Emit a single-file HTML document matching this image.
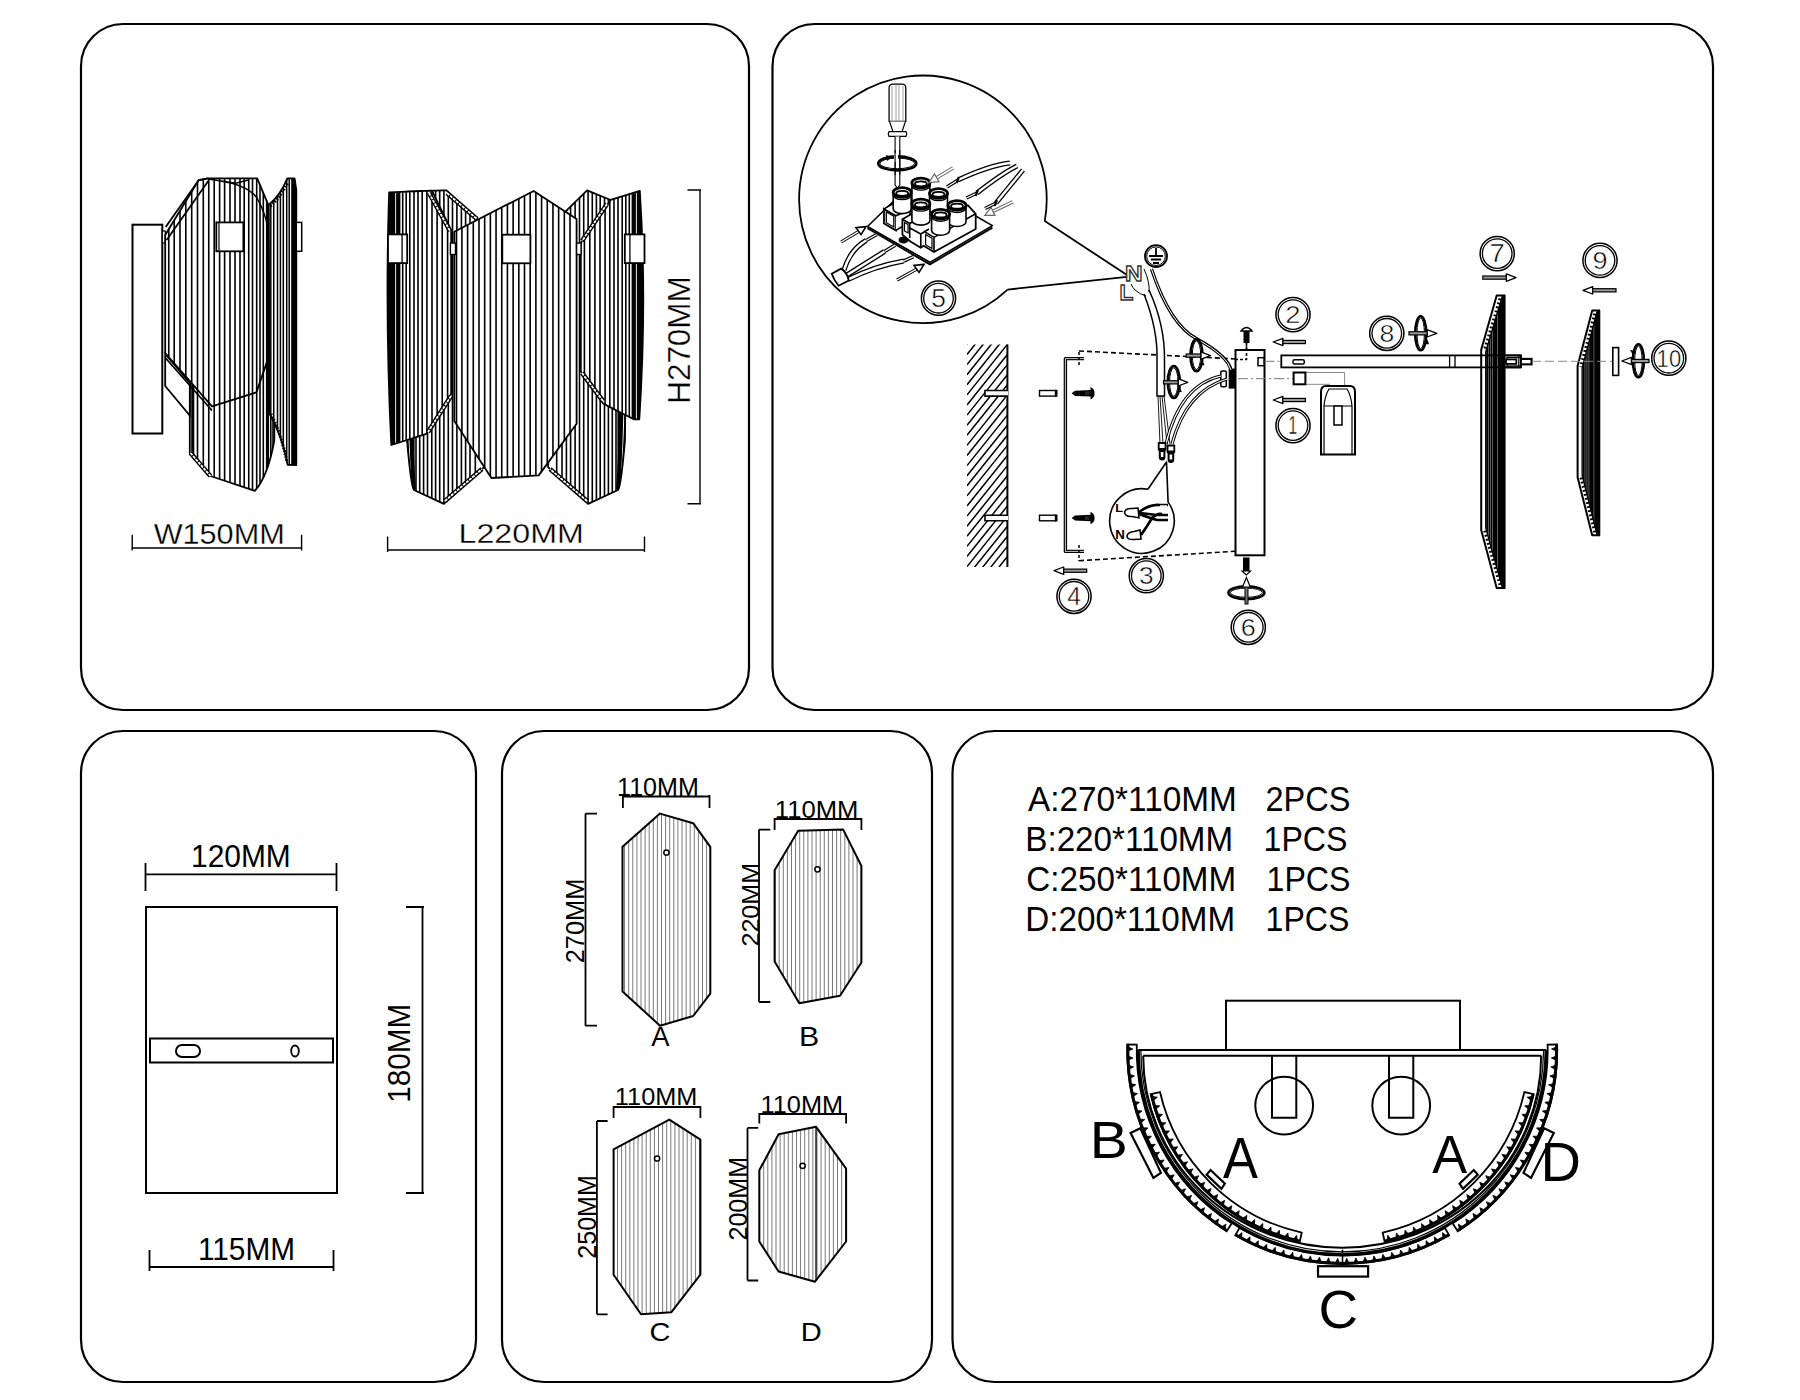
<!DOCTYPE html>
<html><head><meta charset="utf-8"><style>
html,body{margin:0;padding:0;background:#fff;}
svg{display:block;}
text{font-family:"Liberation Sans", sans-serif;}
</style></head><body>
<svg width="1800" height="1400" viewBox="0 0 1800 1400">
<rect width="1800" height="1400" fill="#fff"/>

<defs>
 <pattern id="st1" patternUnits="userSpaceOnUse" x="484.0" y="0" width="5.69" height="10"><rect x="0" y="0" width="1.3" height="10" fill="#000"/></pattern>
 <pattern id="st1s" patternUnits="userSpaceOnUse" x="165.5" y="0" width="5.6" height="10"><rect x="0" y="0" width="1.3" height="10" fill="#000"/></pattern>
 <pattern id="st4" patternUnits="userSpaceOnUse" x="0" y="0" width="4.1" height="10"><rect x="0" y="0" width="1" height="10" fill="#888"/></pattern>
 <pattern id="hatch" patternUnits="userSpaceOnUse" width="10" height="10" patternTransform="rotate(45)"><rect x="0" y="0" width="1.6" height="10" fill="#000"/></pattern>
</defs>
<rect x="81" y="24" width="668" height="686" rx="42" ry="42" fill="none" stroke="#000" stroke-width="2.2"/><rect x="772.5" y="24" width="940.5" height="686" rx="42" ry="42" fill="none" stroke="#000" stroke-width="2.2"/><rect x="81" y="731" width="395" height="651" rx="42" ry="42" fill="none" stroke="#000" stroke-width="2.2"/><rect x="502" y="731" width="430" height="651" rx="42" ry="42" fill="none" stroke="#000" stroke-width="2.2"/><rect x="952.5" y="731" width="760.5" height="651" rx="42" ry="42" fill="none" stroke="#000" stroke-width="2.2"/><rect x="132.5" y="224.7" width="29.8" height="208.8" stroke="#000" fill="#fff" stroke-width="2"/><rect x="162.3" y="231" width="3" height="12" stroke="#000" fill="#fff" stroke-width="1.2"/><path d="M189.8 365 L189.8 453 L210.4 476 L254.9 490.9 Q268 476 274.3 440.6 L274.5 360 Z" fill="#fff"/><clipPath id="p1c1"><path d="M189.8 365 L189.8 453 L210.4 476 L254.9 490.9 Q268 476 274.3 440.6 L274.5 360 Z"/></clipPath><g clip-path="url(#p1c1)"><path d="M192.00 350V495M193.50 350V495M197.50 350V495M203.30 350V495M208.75 350V495M214.20 350V495M219.60 350V495M224.60 350V495M230.00 350V495M235.00 350V495M240.00 350V495M244.20 350V495M248.75 350V495M252.50 350V495M256.70 350V495M260.00 350V495M263.30 350V495M266.70 350V495M268.30 350V495M270.80 350V495M273.00 350V495" stroke="#000" stroke-width="1.6" fill="none"/></g><path d="M189.8 365 L189.8 453 L210.4 476 L254.9 490.9 Q268 476 274.3 440.6 L274.5 360 Z" fill="none" stroke="#000" stroke-width="1.8" stroke-linejoin="round"/><path d="M190.5 453 L210.4 476" stroke="#000" stroke-width="4.6" fill="none" stroke-linecap="butt"/><path d="M190.5 453 L210.4 476" stroke="#fff" stroke-width="1.8" fill="none" stroke-dasharray="3 1"/><path d="M165.2 354 L165.2 386 L189.8 415.5 L189.8 383 Z" stroke="#000" fill="#fff" stroke-width="1.8"/><path d="M268.8 204.7 Q280 196 287.4 178.4 L294.6 178.4 L296.3 190 L296.3 465 L287.6 464.8 Q282 435 269.5 413.8 Z" fill="#fff"/><clipPath id="p1c2"><path d="M268.8 204.7 Q280 196 287.4 178.4 L294.6 178.4 L296.3 190 L296.3 465 L287.6 464.8 Q282 435 269.5 413.8 Z"/></clipPath><g clip-path="url(#p1c2)"><path d="M270.80 175V470M273.75 175V470M277.50 175V470M280.40 175V470M283.30 175V470M286.70 175V470M289.20 175V470" stroke="#000" stroke-width="1.5" fill="none"/><rect x="291.2" y="175" width="6" height="295" fill="#000"/></g><path d="M268.8 204.7 Q280 196 287.4 178.4 L294.6 178.4 L296.3 190 L296.3 465 L287.6 464.8 Q282 435 269.5 413.8 Z" fill="none" stroke="#000" stroke-width="1.8" stroke-linejoin="round"/><path d="M270.5 206 Q281 197 288 182" stroke="#000" fill="none" stroke-width="3" stroke-dasharray="1.5 1.5"/><path d="M271 414 Q281 433 287 462" stroke="#000" fill="none" stroke-width="3" stroke-dasharray="1.5 1.5"/><path d="M165.2 235.0 L198.6 180.2 L207.9 178.4 L257.2 178.4 L267.9 203.8 L269.5 354.6 L256.4 392.4 L212.0 406.4 L165.2 353.0Z" fill="#fff"/><clipPath id="p1c3"><path d="M165.2 235.0 L198.6 180.2 L207.9 178.4 L257.2 178.4 L267.9 203.8 L269.5 354.6 L256.4 392.4 L212.0 406.4 L165.2 353.0Z"/></clipPath><g clip-path="url(#p1c3)"><path d="M165.00 175V410M168.75 175V410M174.20 175V410M180.00 175V410M185.80 175V410M191.70 175V410M197.50 175V410M203.30 175V410M208.75 175V410M214.20 175V410M219.60 175V410M224.60 175V410M230.00 175V410M235.00 175V410M240.00 175V410M244.20 175V410M248.75 175V410M252.50 175V410M256.70 175V410M260.00 175V410M263.30 175V410M266.70 175V410M268.30 175V410" stroke="#000" stroke-width="1.6" fill="none"/></g><path d="M165.2 235.0 L198.6 180.2 L207.9 178.4 L257.2 178.4 L267.9 203.8 L269.5 354.6 L256.4 392.4 L212.0 406.4 L165.2 353.0Z" fill="none" stroke="#000" stroke-width="1.8" stroke-linejoin="round"/><path d="M165.7 226.9 L198.6 180.2 L207.9 178.4 M166.6 240 L208.3 181" stroke="#000" fill="none" stroke-width="1.8"/><path d="M208.3 178.9 L235.9 183.3 L249.2 179.8 M219 180.7 Q248 185 257 198 Q265 212 267.9 227.8" stroke="#000" fill="none" stroke-width="1.5"/><path d="M165.5 358 L212 410.5" stroke="#000" fill="none" stroke-width="1.8"/><rect x="216.3" y="222.4" width="27.1" height="28.9" stroke="#000" fill="#fff" stroke-width="1.8"/><path d="M219 222.4V251.3" stroke="#000" fill="none" stroke-width="1.2"/><rect x="296.3" y="222.4" width="5.4" height="28.9" stroke="#000" fill="#fff" stroke-width="1.5"/><text transform="translate(153.67 543.90) scale(1.0136 1)" font-size="30.22" stroke="#fff" stroke-width="0.3" fill="#000" >W150MM</text><path d="M132.2 548H301.6M132.2 534.7V550.5M301.6 534.7V550.5" stroke="#000" fill="none" stroke-width="1.4"/><path d="M406.4 191.7 L443.3 190.4 L446.5 190.4 L480 222 L484 467.2 L443.9 503.9 L413.9 490 Q411 487 407 440 L405.6 300 Z" fill="#fff"/><clipPath id="p1c4"><path d="M406.4 191.7 L443.3 190.4 L446.5 190.4 L480 222 L484 467.2 L443.9 503.9 L413.9 490 Q411 487 407 440 L405.6 300 Z"/></clipPath><g clip-path="url(#p1c4)"><path d="M412.50 185V510M413.80 185V510M416.00 185V510M419.70 185V510M423.60 185V510M427.50 185V510M431.80 185V510M435.60 185V510M439.70 185V510M443.90 185V510M448.30 185V510M452.50 185V510M456.90 185V510M461.40 185V510M465.60 185V510M470.00 185V510M475.30 185V510" stroke="#000" stroke-width="1.6" fill="none"/><path d="M405 191 L405.6 300 Q407 450 412 490 L406 490 L398 191Z" fill="#000"/><path d="M409 191 V300 Q410 440 414 490" stroke="#000" stroke-width="4" fill="none"/></g><path d="M406.4 191.7 L443.3 190.4 L446.5 190.4 L480 222 L484 467.2 L443.9 503.9 L413.9 490 Q411 487 407 440 L405.6 300 Z" fill="none" stroke="#000" stroke-width="1.8" stroke-linejoin="round"/><path d="M445 501 L482 469" stroke="#000" stroke-width="4.6" fill="none" stroke-linecap="butt"/><path d="M445 501 L482 469" stroke="#fff" stroke-width="1.8" fill="none" stroke-dasharray="3 1"/><path d="M447 193 L477 219" stroke="#000" stroke-width="4.6" fill="none" stroke-linecap="butt"/><path d="M447 193 L477 219" stroke="#fff" stroke-width="1.8" fill="none" stroke-dasharray="3 1"/><path d="M626.4 200 L610.7 200 L587.1 190.4 L565.9 211.2 L548 467.2 L588.1 503.9 L618.1 490 Q621 487 625 440 L626.4 300 Z" fill="#fff"/><clipPath id="p1c5"><path d="M626.4 200 L610.7 200 L587.1 190.4 L565.9 211.2 L548 467.2 L588.1 503.9 L618.1 490 Q621 487 625 440 L626.4 300 Z"/></clipPath><g clip-path="url(#p1c5)"><path d="M619.50 185V510M618.20 185V510M616.00 185V510M612.30 185V510M608.40 185V510M604.50 185V510M600.20 185V510M596.40 185V510M592.30 185V510M588.10 185V510M583.70 185V510M579.50 185V510M575.10 185V510M570.60 185V510M566.40 185V510M562.00 185V510M556.70 185V510" stroke="#000" stroke-width="1.6" fill="none"/><path d="M627 191 L626.4 300 Q625 450 620 490 L626 490 L634 191Z" fill="#000"/><path d="M623 191 V300 Q622 440 618 490" stroke="#000" stroke-width="4" fill="none"/></g><path d="M626.4 200 L610.7 200 L587.1 190.4 L565.9 211.2 L548 467.2 L588.1 503.9 L618.1 490 Q621 487 625 440 L626.4 300 Z" fill="none" stroke="#000" stroke-width="1.8" stroke-linejoin="round"/><path d="M587 501 L550 469" stroke="#000" stroke-width="4.6" fill="none" stroke-linecap="butt"/><path d="M587 501 L550 469" stroke="#fff" stroke-width="1.8" fill="none" stroke-dasharray="3 1"/><path d="M389.1 192.4 L432 190.6 L451.2 230.5 L451.2 394 L426.3 433.8 L391.3 445 Q385 318 389.1 192.4 Z" fill="#fff"/><clipPath id="p1c6"><path d="M389.1 192.4 L432 190.6 L451.2 230.5 L451.2 394 L426.3 433.8 L391.3 445 Q385 318 389.1 192.4 Z"/></clipPath><g clip-path="url(#p1c6)"><path d="M393.30 185V450M394.40 185V450M396.90 185V450M398.20 185V450M399.60 185V450M402.70 185V450M406.20 185V450M409.80 185V450M414.00 185V450M418.00 185V450M422.20 185V450M426.90 185V450M432.00 185V450M437.10 185V450M442.20 185V450M447.60 185V450" stroke="#000" stroke-width="1.6" fill="none"/><path d="M389.5 192 Q384.5 318 391.3 445 L393 445 L393 192Z" fill="#000"/></g><path d="M389.1 192.4 L432 190.6 L451.2 230.5 L451.2 394 L426.3 433.8 L391.3 445 Q385 318 389.1 192.4 Z" fill="none" stroke="#000" stroke-width="1.8" stroke-linejoin="round"/><path d="M429 193 L450 231 M451 396 L428 432" stroke="#000" stroke-width="4.6" fill="none" stroke-linecap="butt"/><path d="M429 193 L450 231 M451 396 L428 432" stroke="#fff" stroke-width="1.8" fill="none" stroke-dasharray="3 1"/><path d="M610.7 199.9 L639.8 190.8 Q647 300 639.3 419.3 L633.8 419.3 L603.2 403.6 L580.8 371.4 L580.8 243 Z" fill="#fff"/><clipPath id="p1c7"><path d="M610.7 199.9 L639.8 190.8 Q647 300 639.3 419.3 L633.8 419.3 L603.2 403.6 L580.8 371.4 L580.8 243 Z"/></clipPath><g clip-path="url(#p1c7)"><path d="M638.70 185V450M637.60 185V450M635.10 185V450M633.80 185V450M632.40 185V450M629.30 185V450M625.80 185V450M622.20 185V450M618.00 185V450M614.00 185V450M609.80 185V450M605.10 185V450M600.00 185V450M594.90 185V450M589.80 185V450M584.40 185V450" stroke="#000" stroke-width="1.6" fill="none"/><path d="M639.8 190.8 Q647.5 300 639.3 419.3 L638.6 419.3 L638.6 190.8Z" fill="#000"/></g><path d="M610.7 199.9 L639.8 190.8 Q647 300 639.3 419.3 L633.8 419.3 L603.2 403.6 L580.8 371.4 L580.8 243 Z" fill="none" stroke="#000" stroke-width="1.8" stroke-linejoin="round"/><path d="M607 204 L582 241 M582 373 L603 401" stroke="#000" stroke-width="4.6" fill="none" stroke-linecap="butt"/><path d="M607 204 L582 241 M582 373 L603 401" stroke="#fff" stroke-width="1.8" fill="none" stroke-dasharray="3 1"/><path d="M533.6 191.0 L576.6 219.0 L576.6 423.7 L538.7 475.4 L491.4 478.0 L454.3 421.0 L454.3 231.7Z" fill="#fff"/><clipPath id="p1c8"><path d="M533.6 191.0 L576.6 219.0 L576.6 423.7 L538.7 475.4 L491.4 478.0 L454.3 421.0 L454.3 231.7Z"/></clipPath><g clip-path="url(#p1c8)"><path d="M456.50 185V480M461.91 185V480M467.60 185V480M473.29 185V480M478.98 185V480M484.67 185V480M490.36 185V480M496.05 185V480M501.74 185V480M507.43 185V480M513.12 185V480M518.81 185V480M524.50 185V480M530.19 185V480M535.88 185V480M541.57 185V480M547.26 185V480M552.95 185V480M558.64 185V480M564.33 185V480M570.02 185V480" stroke="#000" stroke-width="1.6" fill="none"/></g><path d="M533.6 191.0 L576.6 219.0 L576.6 423.7 L538.7 475.4 L491.4 478.0 L454.3 421.0 L454.3 231.7Z" fill="none" stroke="#000" stroke-width="1.8" stroke-linejoin="round"/><rect x="388" y="234.4" width="19.2" height="28.7" stroke="#000" fill="#fff" stroke-width="1.8"/><path d="M402.1 234.4V263.1" stroke="#000" fill="none" stroke-width="1.3"/><rect x="502.3" y="234.7" width="28.1" height="28.6" stroke="#000" fill="#fff" stroke-width="1.8"/><rect x="624.8" y="234.4" width="19.7" height="28.7" stroke="#000" fill="#fff" stroke-width="1.8"/><path d="M629.9 234.4V263.1" stroke="#000" fill="none" stroke-width="1.3"/><rect x="450.4" y="243.1" width="5.1" height="11.4" stroke="#000" fill="#fff" stroke-width="1.4"/><rect x="576.6" y="243.1" width="4.5" height="11.4" stroke="#000" fill="#fff" stroke-width="1.4"/><text transform="translate(458.56 543.40) scale(1.1356 1)" font-size="28.36" stroke="#fff" stroke-width="0.3" fill="#000" >L220MM</text><path d="M387.6 550H644.5M387.6 536.4V552M644.5 536.4V552" stroke="#000" fill="none" stroke-width="1.4"/><path d="M700 190V503.75M687.5 190H701M687.5 503.75H701" stroke="#000" fill="none" stroke-width="1.4"/><text transform="translate(690.00 403.83) rotate(-90) scale(1.0341 1)" font-size="30.43" stroke="#fff" stroke-width="0.3" fill="#000">H270MM</text><path d="M1007.6 289.6 A123.8 123.8 0 1 1 1044.8 220.9 L1129.3 276.6 L1007.6 289.6" stroke="#000" fill="none" stroke-width="1.8" stroke-linejoin="round"/><circle cx="938.5" cy="298.2" r="17.1" stroke="#000" fill="none" stroke-width="1.5"/><circle cx="938.5" cy="298.2" r="14.8" stroke="#000" fill="none" stroke-width="1.3"/><text transform="translate(931.19 306.80) scale(1.0546 1)" font-size="25.00" stroke="#fff" stroke-width="0.5" fill="#000" >5</text><clipPath id="wallc"><rect x="967" y="344.4" width="40.4" height="222.5"/></clipPath><g clip-path="url(#wallc)"><path d="M967 334.3 L1007.4 283.8M967 344.4 L1007.4 293.9M967 354.5 L1007.4 304.0M967 364.6 L1007.4 314.1M967 374.7 L1007.4 324.2M967 384.8 L1007.4 334.3M967 394.9 L1007.4 344.4M967 405.0 L1007.4 354.5M967 415.1 L1007.4 364.6M967 425.2 L1007.4 374.7M967 435.3 L1007.4 384.8M967 445.4 L1007.4 394.9M967 455.5 L1007.4 405.0M967 465.6 L1007.4 415.1M967 475.7 L1007.4 425.2M967 485.8 L1007.4 435.3M967 495.9 L1007.4 445.4M967 506.0 L1007.4 455.5M967 516.1 L1007.4 465.6M967 526.2 L1007.4 475.7M967 536.3 L1007.4 485.8M967 546.4 L1007.4 495.9M967 556.5 L1007.4 506.0M967 566.6 L1007.4 516.1M967 576.7 L1007.4 526.2M967 586.8 L1007.4 536.3M967 596.9 L1007.4 546.4M967 607.0 L1007.4 556.5M967 617.1 L1007.4 566.6M967 627.2 L1007.4 576.7M967 637.3 L1007.4 586.8M967 647.4 L1007.4 596.9M967 657.5 L1007.4 607.0M967 667.6 L1007.4 617.1M967 677.7 L1007.4 627.2M967 687.8 L1007.4 637.3" stroke="#000" stroke-width="1.5"/></g><path d="M1007.4 344.4V566.9" stroke="#000" fill="none" stroke-width="2"/><rect x="985" y="390.5" width="23" height="5.6" fill="#fff"/><path d="M1008 390.5 H985 V396.1 H1008" stroke="#000" fill="none" stroke-width="1.6"/><rect x="1039.5" y="390.5" width="16" height="5.6" stroke="#000" fill="#fff" stroke-width="1.4"/><rect x="1055" y="389.8" width="2.5" height="7" fill="#000"/><path d="M1071.6 393.3 L1075 390.7 L1091 390.1 L1091 396.5 L1075 395.90000000000003 Z" fill="#000"/><path d="M1090.5 387.0 Q1095 389.3 1094.5 393.3 Q1095 397.3 1090.5 399.6 Z" fill="#000"/><path d="M1086 391.3 V395.3 M1088 391.3 V395.3" stroke="#666" stroke-width="0.7"/><rect x="985" y="515.2" width="23" height="5.6" fill="#fff"/><path d="M1008 515.2 H985 V520.8 H1008" stroke="#000" fill="none" stroke-width="1.6"/><rect x="1039.5" y="515.2" width="16" height="5.6" stroke="#000" fill="#fff" stroke-width="1.4"/><rect x="1055" y="514.5" width="2.5" height="7" fill="#000"/><path d="M1071.6 518 L1075 515.4 L1091 514.8 L1091 521.2 L1075 520.6 Z" fill="#000"/><path d="M1090.5 511.7 Q1095 514 1094.5 518 Q1095 522 1090.5 524.3 Z" fill="#000"/><path d="M1086 516 V520 M1088 516 V520" stroke="#666" stroke-width="0.7"/><path d="M1084 358.6 H1065.4 V551.4 H1084" stroke="#000" fill="none" stroke-width="3.4" stroke-linejoin="round"/><path d="M1084 358.6 H1065.4 V551.4 H1084" stroke="#fff" fill="none" stroke-width="0.8"/><path d="M1079 352V366 M1079 545V561" stroke="#000" fill="none" stroke-width="1.5" stroke-dasharray="3 2"/><path d="M1079 351 L1246.5 359.5 V343 M1079 560.7 L1235.3 551.3" stroke="#000" fill="none" stroke-width="1.6" stroke-dasharray="5 3"/><rect x="1235.5" y="350" width="29" height="205.3" stroke="#000" fill="#fff" stroke-width="2"/><path d="M1246.5 343 V359.5 H1235.5" stroke="#000" fill="none" stroke-width="1.6" stroke-dasharray="3 2"/><rect x="1243.5" y="329" width="6" height="14" fill="#000"/><path d="M1241 331 Q1246.5 324 1252 331Z" fill="#fff" stroke="#000" stroke-width="1.3"/><rect x="1243" y="557.5" width="6.5" height="14.5" fill="#000"/><path d="M1242 571 L1246.3 575 L1250.5 571Z" fill="#fff" stroke="#000" stroke-width="1.2"/><rect x="1258" y="357.7" width="6" height="8" stroke="#000" fill="#fff" stroke-width="1.5"/><rect x="1228.7" y="368.6" width="6.6" height="20" fill="#000"/><rect x="1220.8" y="371" width="5.5" height="15.8" rx="1.5" stroke="#000" fill="#fff" stroke-width="1.5"/><path d="M1264.5 361.3 H1281 M1238 378.7 H1293" stroke="#777" stroke-width="1" stroke-dasharray="10 3 2 3"/><ellipse cx="1246.4" cy="592.7" rx="18" ry="6.5" stroke="#000" fill="none" stroke-width="2.6"/><ellipse cx="1246.4" cy="592.7" rx="16" ry="4.6" stroke="#000" fill="none" stroke-width="1"/><rect x="1245" y="586" width="3" height="18" fill="#777" stroke="#000" stroke-width="1"/><path d="M1246.4 577.5 L1242.5 587 L1250.3 587Z" fill="#fff" stroke="#000" stroke-width="1.2"/><circle cx="1248.3" cy="627.3" r="17.1" stroke="#000" fill="none" stroke-width="1.5"/><circle cx="1248.3" cy="627.3" r="14.8" stroke="#000" fill="none" stroke-width="1.3"/><text transform="translate(1240.67 635.90) scale(1.0997 1)" font-size="24.63" stroke="#fff" stroke-width="0.5" fill="#000" >6</text><circle cx="1293" cy="314.6" r="17.1" stroke="#000" fill="none" stroke-width="1.5"/><circle cx="1293" cy="314.6" r="14.8" stroke="#000" fill="none" stroke-width="1.3"/><text transform="translate(1285.37 323.20) scale(1.1139 1)" font-size="24.63" stroke="#fff" stroke-width="0.5" fill="#000" >2</text><path d="M1273.2 342 L1282.9 338.3 L1282.9 345.7 Z" fill="#fff" stroke="#000" stroke-width="1.3" stroke-linejoin="round"/><rect x="1282.9" y="340.4" width="22.5" height="3.2" fill="#999" stroke="#000" stroke-width="1.2"/><path d="M1273.2 400 L1282.9 396.3 L1282.9 403.7 Z" fill="#fff" stroke="#000" stroke-width="1.3" stroke-linejoin="round"/><rect x="1282.9" y="398.4" width="22.5" height="3.2" fill="#999" stroke="#000" stroke-width="1.2"/><circle cx="1293" cy="425.6" r="17.1" stroke="#000" fill="none" stroke-width="1.5"/><circle cx="1293" cy="425.6" r="14.8" stroke="#000" fill="none" stroke-width="1.3"/><text transform="translate(1288.26 434.20) scale(0.6494 1)" font-size="25.00" stroke="#fff" stroke-width="0.5" fill="#000" >1</text><circle cx="1146.3" cy="575.7" r="17.1" stroke="#000" fill="none" stroke-width="1.5"/><circle cx="1146.3" cy="575.7" r="14.8" stroke="#000" fill="none" stroke-width="1.3"/><text transform="translate(1139.05 584.30) scale(1.0703 1)" font-size="24.63" stroke="#fff" stroke-width="0.5" fill="#000" >3</text><path d="M1054 570.7 L1063.7 567.0 L1063.7 574.4000000000001 Z" fill="#fff" stroke="#000" stroke-width="1.3" stroke-linejoin="round"/><rect x="1063.7" y="569.1" width="23.0" height="3.2" fill="#999" stroke="#000" stroke-width="1.2"/><circle cx="1074" cy="596.3" r="17.1" stroke="#000" fill="none" stroke-width="1.5"/><circle cx="1074" cy="596.3" r="14.8" stroke="#000" fill="none" stroke-width="1.3"/><text transform="translate(1067.18 604.90) scale(0.9922 1)" font-size="25.00" stroke="#fff" stroke-width="0.5" fill="#000" >4</text><circle cx="1497.2" cy="253.6" r="17.1" stroke="#000" fill="none" stroke-width="1.5"/><circle cx="1497.2" cy="253.6" r="14.8" stroke="#000" fill="none" stroke-width="1.3"/><text transform="translate(1489.54 262.20) scale(1.0999 1)" font-size="25.00" stroke="#fff" stroke-width="0.5" fill="#000" >7</text><path d="M1516 277.6 L1506.3 273.90000000000003 L1506.3 281.3 Z" fill="#fff" stroke="#000" stroke-width="1.3" stroke-linejoin="round"/><rect x="1482.8" y="276.0" width="23.5" height="3.2" fill="#999" stroke="#000" stroke-width="1.2"/><circle cx="1386.8" cy="333.3" r="17.1" stroke="#000" fill="none" stroke-width="1.5"/><circle cx="1386.8" cy="333.3" r="14.8" stroke="#000" fill="none" stroke-width="1.3"/><text transform="translate(1379.39 341.90) scale(1.0814 1)" font-size="24.63" stroke="#fff" stroke-width="0.5" fill="#000" >8</text><circle cx="1600" cy="260.4" r="17.1" stroke="#000" fill="none" stroke-width="1.5"/><circle cx="1600" cy="260.4" r="14.8" stroke="#000" fill="none" stroke-width="1.3"/><text transform="translate(1592.48 269.00) scale(1.0986 1)" font-size="24.63" stroke="#fff" stroke-width="0.5" fill="#000" >9</text><path d="M1583 290.3 L1592.7 286.6 L1592.7 294.0 Z" fill="#fff" stroke="#000" stroke-width="1.3" stroke-linejoin="round"/><rect x="1592.7" y="288.7" width="23.299999999999955" height="3.2" fill="#999" stroke="#000" stroke-width="1.2"/><circle cx="1668.8" cy="358.2" r="17.1" stroke="#000" fill="none" stroke-width="1.5"/><circle cx="1668.8" cy="358.2" r="14.8" stroke="#000" fill="none" stroke-width="1.3"/><text transform="translate(1656.62 366.80) scale(0.8957 1)" font-size="24.63" stroke="#fff" stroke-width="0.5" fill="#000" >10</text><rect x="1281.3" y="355.4" width="239.7" height="12" stroke="#000" fill="#fff" stroke-width="1.8"/><path d="M1449.6 355.4V367.4M1455 355.4V367.4" stroke="#000" fill="none" stroke-width="1.3"/><rect x="1293" y="359.7" width="11.3" height="4.3" rx="1.5" stroke="#000" fill="#fff" stroke-width="1.5"/><rect x="1507" y="357.5" width="14" height="8.5" stroke="#000" fill="#fff" stroke-width="1.3"/><rect x="1521" y="358.6" width="10.7" height="6" stroke="#000" fill="#fff" stroke-width="1.5"/><path d="M1305.4 372.5 H1344.6 V386 M1305.4 384.3 H1330" stroke="#888" stroke-width="1" fill="none"/><rect x="1293.6" y="372.5" width="11.8" height="11.8" stroke="#000" fill="#fff" stroke-width="2"/><path d="M1321 454.6 V392 Q1321 386 1326 386 H1350 Q1355 386 1355 392 V454.6 Z" stroke="#000" fill="#fff" stroke-width="2"/><path d="M1324 454 V406 Q1325 395 1329 389 H1347 Q1351 395 1352 406 V454 M1324 406 H1352" stroke="#000" fill="none" stroke-width="1.2"/><rect x="1334" y="406" width="8" height="19" stroke="#000" fill="#fff" stroke-width="1.5"/><ellipse cx="1420.7" cy="333.3" rx="5.5" ry="17" stroke="#000" fill="none" stroke-width="2.6"/><ellipse cx="1420.7" cy="333.3" rx="3.7" ry="15.2" stroke="#000" fill="none" stroke-width="1"/><path d="M1424.2 344.3 l3 -5 l2 5z" fill="#000"/><path d="M1436.8 333.3 L1427.1 329.6 L1427.1 337.0 Z" fill="#fff" stroke="#000" stroke-width="1.3" stroke-linejoin="round"/><rect x="1409" y="331.7" width="18.09999999999991" height="3.2" fill="#999" stroke="#000" stroke-width="1.2"/><path d="M1496.7 295.5 L1504.5 295.5 L1504.5 588 L1496.7 588 L1481.2 530 L1481.2 349.8 Z" fill="#fff" stroke="#000" stroke-width="2" stroke-linejoin="round"/><clipPath id="sp1496"><path d="M1502.0 297.0 L1485.7 351.8 L1485.7 528 L1502.0 586.5 L1504.5 588 L1504.5 295.5 Z"/></clipPath><g clip-path="url(#sp1496)"><rect x="1486.2" y="295.5" width="18.299999999999955" height="292.5" fill="#000"/><path d="M1488.5 295.5V588" stroke="#666" stroke-width="0.9"/><path d="M1490.5 295.5V588" stroke="#666" stroke-width="0.9"/><path d="M1492.5 295.5V588" stroke="#666" stroke-width="0.9"/><path d="M1497.5 295.5V588" stroke="#666" stroke-width="0.9"/></g><path d="M1502.0 297.0 L1485.7 351.8 L1485.7 528 L1502.0 586.5 L1504.5 588 L1504.5 295.5 Z" fill="none" stroke="#000" stroke-width="1.3"/><path d="M1500.0 298.5 L1484.2 350.8 M1500.0 585 L1484.2 529" stroke="#000" stroke-width="3" stroke-dasharray="1.8 2.4" fill="none"/><path d="M1592.2 310.6 L1599.3 310.6 L1599.3 535.3 L1592.2 535.3 L1577.6 477.2 L1577.6 366 Z" fill="#fff" stroke="#000" stroke-width="2" stroke-linejoin="round"/><clipPath id="sp1592"><path d="M1596.8 312.1 L1582.1 368 L1582.1 475.2 L1596.8 533.8 L1599.3 535.3 L1599.3 310.6 Z"/></clipPath><g clip-path="url(#sp1592)"><rect x="1582.6" y="310.6" width="16.700000000000045" height="224.69999999999993" fill="#000"/><path d="M1584.9 310.6V535.3" stroke="#666" stroke-width="0.9"/><path d="M1586.9 310.6V535.3" stroke="#666" stroke-width="0.9"/><path d="M1588.9 310.6V535.3" stroke="#666" stroke-width="0.9"/><path d="M1593.9 310.6V535.3" stroke="#666" stroke-width="0.9"/></g><path d="M1596.8 312.1 L1582.1 368 L1582.1 475.2 L1596.8 533.8 L1599.3 535.3 L1599.3 310.6 Z" fill="none" stroke="#000" stroke-width="1.3"/><path d="M1594.8 313.6 L1580.6 367 M1594.8 532.3 L1580.6 476.2" stroke="#000" stroke-width="3" stroke-dasharray="1.8 2.4" fill="none"/><path d="M1481 355.4H1521 M1481 367.4H1521" stroke="#000" fill="none" stroke-width="1.6"/><rect x="1506" y="359.4" width="10.3" height="4.5" stroke="#000" fill="#fff" stroke-width="1.8"/><path d="M1518.8 355.4V367.4" stroke="#000" fill="none" stroke-width="1.3"/><path d="M1521 355.4V367.4" stroke="#000" fill="none" stroke-width="1.8"/><rect x="1521" y="359.1" width="10.4" height="5.1" stroke="#000" fill="#fff" stroke-width="1.8"/><path d="M1532 361.3 H1612" stroke="#888" stroke-width="1" stroke-dasharray="9 4"/><rect x="1612.8" y="347.6" width="5.8" height="27.8" stroke="#000" fill="#fff" stroke-width="1.6"/><ellipse cx="1638.4" cy="360.8" rx="5.5" ry="16.5" stroke="#000" fill="none" stroke-width="2.6"/><ellipse cx="1638.4" cy="360.8" rx="3.7" ry="14.7" stroke="#000" fill="none" stroke-width="1"/><path d="M1621.8 361 L1631.5 357.3 L1631.5 364.7 Z" fill="#fff" stroke="#000" stroke-width="1.3" stroke-linejoin="round"/><rect x="1631.5" y="359.4" width="17.5" height="3.2" fill="#999" stroke="#000" stroke-width="1.2"/><path d="M1633 355 l-3 -5 l6 1z" fill="#000"/><text transform="translate(1125.00 280.70) scale(1.0807 1)" font-size="22.53" font-weight="bold" fill="#fff" stroke="#333" stroke-width="1.3">N</text><text transform="translate(1119.54 300.20) scale(1.0002 1)" font-size="22.67" font-weight="bold" fill="#fff" stroke="#333" stroke-width="1.3">L</text><circle cx="1156" cy="256.2" r="11" stroke="#000" fill="none" stroke-width="1.8"/><circle cx="1156" cy="256.2" r="9.3" stroke="#000" fill="none" stroke-width="1"/><path d="M1156 248V256 M1149 256H1163 M1151 259.5H1161 M1153 263H1159" stroke="#000" stroke-width="1.8"/><path d="M1144 294 Q1158 330 1157 360 V396 H1164.5 V360 Q1165 325 1149 290" fill="#fff" stroke="#000" stroke-width="1.5"/><path d="M1131 284 Q1134 292 1146 296 M1144 269 Q1150 282 1149 292" stroke="#000" stroke-width="1" fill="none"/><path d="M1151.5 269 Q1170 325 1197 339 Q1228 356 1231 370" stroke="#000" stroke-width="3.3" fill="none"/><path d="M1151.5 269 Q1170 325 1197 339 Q1228 356 1231 370" stroke="#fff" stroke-width="1" fill="none"/><path d="M1158 396 L1160 444 M1160 396 L1163 444 M1162 396 L1167 444 M1164 396 L1170 444" stroke="#000" stroke-width="0.9" fill="none"/><path d="M1221 376.0 Q1180 385 1166 444" stroke="#000" stroke-width="3.2" fill="none" transform="translate(0 0)"/><path d="M1221 376.0 Q1180 385 1166 444" stroke="#fff" stroke-width="1.2" fill="none" transform="translate(0 0)"/><path d="M1221 379.0 Q1180 391 1166 444" stroke="#000" stroke-width="3.2" fill="none" transform="translate(6 0)"/><path d="M1221 379.0 Q1180 391 1166 444" stroke="#fff" stroke-width="1.2" fill="none" transform="translate(6 0)"/><path d="M1157.8 442 H1166.3999999999999 V450 L1165.3999999999999 451 V457 Q1165.3999999999999 460.5 1162.1 460.5 Q1158.8 460.5 1158.8 457 V451 L1157.8 450 Z" fill="#000"/><rect x="1159.6" y="444" width="5" height="4" fill="#fff"/><rect x="1160.8" y="452" width="2.6" height="5" fill="#fff"/><path d="M1166.6 444.5 H1175.1999999999998 V452.5 L1174.1999999999998 453.5 V459.5 Q1174.1999999999998 463.0 1170.8999999999999 463.0 Q1167.6 463.0 1167.6 459.5 V453.5 L1166.6 452.5 Z" fill="#000"/><rect x="1168.3999999999999" y="446.5" width="5" height="4" fill="#fff"/><rect x="1169.6" y="454.5" width="2.6" height="5" fill="#fff"/><ellipse cx="1196.5" cy="355.3" rx="6" ry="16" stroke="#000" fill="none" stroke-width="2.6"/><ellipse cx="1196.5" cy="355.3" rx="4.2" ry="14.2" stroke="#000" fill="none" stroke-width="1"/><path d="M1210.5 355.6 L1200.8 351.90000000000003 L1200.8 359.3 Z" fill="#fff" stroke="#000" stroke-width="1.3" stroke-linejoin="round"/><rect x="1186.2" y="354.0" width="14.599999999999909" height="3.2" fill="#999" stroke="#000" stroke-width="1.2"/><path d="M1199.5 365.3 l3 -5 l2 5z" fill="#000"/><ellipse cx="1173.8" cy="382" rx="6" ry="16" stroke="#000" fill="none" stroke-width="2.6"/><ellipse cx="1173.8" cy="382" rx="4.2" ry="14.2" stroke="#000" fill="none" stroke-width="1"/><path d="M1187.8 382.3 L1178.1 378.6 L1178.1 386.0 Z" fill="#fff" stroke="#000" stroke-width="1.3" stroke-linejoin="round"/><rect x="1163.5" y="380.7" width="14.599999999999909" height="3.2" fill="#999" stroke="#000" stroke-width="1.2"/><path d="M1176.8 392 l3 -5 l2 5z" fill="#000"/><path d="M1147.9 489.3 A32.3 32.3 0 1 0 1168.1 502.1 L1166.5 462 L1147.9 489.3" fill="none" stroke="#000" stroke-width="1.6" stroke-linejoin="round"/><text transform="translate(1115.36 512.40) scale(1.1808 1)" font-size="10.76" font-weight="bold" fill="#000" >L</text><text transform="translate(1115.31 539.40) scale(1.0127 1)" font-size="13.08" font-weight="bold" fill="#000" >N</text><path d="M1124.5 512 Q1126 508 1132 508.5 L1138 508 L1139 517.7 L1132 516.5 Q1125 517 1124.5 512Z" fill="#fff" stroke="#000" stroke-width="1.6"/><path d="M1127 536 Q1128 532 1134 531.5 L1140 530 L1141 539 L1134 539.5 Q1127 540 1127 536Z" fill="#fff" stroke="#000" stroke-width="1.6"/><path d="M1139 512 Q1150 504 1160 505 H1168 M1139 513 Q1150 514 1156 515 H1168 M1139 514 Q1150 518 1157 520 H1168 M1141 535 Q1148 525 1152 518 Q1157 513 1162 514" stroke="#000" stroke-width="2.6" fill="none"/><path d="M1160 506 H1167" stroke="#fff" stroke-width="1.5"/><path d="M889.1 121.4 V88 Q889.1 84.1 893 84.1 H902 Q905.8 84.1 905.8 88 V121.4 Z" fill="#fff" stroke="#000" stroke-width="1.3"/><path d="M892 86 V121 M896 85 V121 M899 85 V121 M903 86 V121" stroke="#999" stroke-width="0.9"/><path d="M889.5 121.4 L893 131.7 H902 L905.5 121.4 M889 131.7 Q887.5 134 889 136.4 H906 Q907.5 134 906 131.7 Z" fill="#fff" stroke="#000" stroke-width="1.2"/><path d="M895.1 136.4 V185 L897.4 188 L899.8 185 V136.4" fill="#fff" stroke="#000" stroke-width="1.1"/><ellipse cx="897.3" cy="163.4" rx="19" ry="7" stroke="#000" fill="none" stroke-width="2.6"/><ellipse cx="897.3" cy="163.4" rx="17.3" ry="5.3" stroke="#000" fill="none" stroke-width="1"/><rect x="894" y="153" width="4" height="9" fill="#fff"/><path d="M895.1 150 V175 M899.8 150 V175" stroke="#000" stroke-width="1.1"/><path d="M886 155 l6 2 l-5 4z" fill="#000"/><path d="M867.5 226.5 L929.9 262.4 L992.4 225.6 L975.7 216 L905 190 Z" fill="#fff" stroke="#000" stroke-width="1.6" stroke-linejoin="round"/><path d="M867.5 228.3 L929.9 264.4 L992.4 227.6" stroke="#000" stroke-width="1.8" fill="none"/><path d="M880 234 L930 262" stroke="#000" stroke-width="1" fill="none"/><path d="M884 208.9 L895.8 215.8 L895.8 230.4 L884 223.5 Z" fill="#fff" stroke="#000" stroke-width="1.8"/><path d="M884 208.9 L896 202 L910 209.6 L895.8 215.8 Z M895.8 215.8 L910 209.6 L910 222 L895.8 230.4" fill="#fff" stroke="#000" stroke-width="1.6"/><path d="M886.3 212 L893.8 216.3 L893.8 227 L886.3 222.7 Z" fill="#fff" stroke="#000" stroke-width="1.3"/><path d="M902.4 219.3 L915 212 L968 205.4 L975.7 213.8 L975.7 229 L934 252 L923.6 245.7 L920.8 247.8 L910.4 241.5 L902.4 234.6 Z" fill="#fff" stroke="#000" stroke-width="1.8" stroke-linejoin="round"/><path d="M902.4 219.3 L909.7 223.5 L909.7 238 M910.4 228.3 L920.8 234 V247.8 M923.6 231.1 L934 237.4 V252 M934 237.4 L975.7 213.8 M909.7 223.5 L918 219 M920.8 234 L929 229" fill="none" stroke="#000" stroke-width="1.6"/><path d="M904.5 222.5 L908 224.5 V233 L904.5 231 Z M925.6 234.5 L932 238.3 V248.5 L925.6 244.7 Z" fill="#fff" stroke="#000" stroke-width="1.2"/><ellipse cx="903.5" cy="240" rx="5" ry="3.5" fill="#000"/><path d="M911.9 183 V199.5 A9 4.6 0 0 0 929.9 199.5 V183" fill="#fff" stroke="#000" stroke-width="1.6"/><ellipse cx="920.9" cy="183" rx="9" ry="4.8" fill="#fff" stroke="#000" stroke-width="2.8"/><ellipse cx="920.9" cy="183.8" rx="6" ry="2.5" fill="#fff" stroke="#000" stroke-width="1.8"/><path d="M911.9 185.5 A9 4.6 0 0 0 929.9 185.5" fill="none" stroke="#000" stroke-width="1.4"/><path d="M893.2 192.5 V209.0 A9 4.6 0 0 0 911.2 209.0 V192.5" fill="#fff" stroke="#000" stroke-width="1.6"/><ellipse cx="902.2" cy="192.5" rx="9" ry="4.8" fill="#fff" stroke="#000" stroke-width="2.8"/><ellipse cx="902.2" cy="193.3" rx="6" ry="2.5" fill="#fff" stroke="#000" stroke-width="1.8"/><path d="M893.2 195.0 A9 4.6 0 0 0 911.2 195.0" fill="none" stroke="#000" stroke-width="1.4"/><path d="M929.5 193.5 V210.0 A9 4.6 0 0 0 947.5 210.0 V193.5" fill="#fff" stroke="#000" stroke-width="1.6"/><ellipse cx="938.5" cy="193.5" rx="9" ry="4.8" fill="#fff" stroke="#000" stroke-width="2.8"/><ellipse cx="938.5" cy="194.3" rx="6" ry="2.5" fill="#fff" stroke="#000" stroke-width="1.8"/><path d="M929.5 196.0 A9 4.6 0 0 0 947.5 196.0" fill="none" stroke="#000" stroke-width="1.4"/><path d="M911.9 204 V220.5 A9 4.6 0 0 0 929.9 220.5 V204" fill="#fff" stroke="#000" stroke-width="1.6"/><ellipse cx="920.9" cy="204" rx="9" ry="4.8" fill="#fff" stroke="#000" stroke-width="2.8"/><ellipse cx="920.9" cy="204.8" rx="6" ry="2.5" fill="#fff" stroke="#000" stroke-width="1.8"/><path d="M911.9 206.5 A9 4.6 0 0 0 929.9 206.5" fill="none" stroke="#000" stroke-width="1.4"/><path d="M948 205.4 V221.9 A9 4.6 0 0 0 966 221.9 V205.4" fill="#fff" stroke="#000" stroke-width="1.6"/><ellipse cx="957" cy="205.4" rx="9" ry="4.8" fill="#fff" stroke="#000" stroke-width="2.8"/><ellipse cx="957" cy="206.20000000000002" rx="6" ry="2.5" fill="#fff" stroke="#000" stroke-width="1.8"/><path d="M948 207.9 A9 4.6 0 0 0 966 207.9" fill="none" stroke="#000" stroke-width="1.4"/><path d="M931.6 214.1 V230.6 A9 4.6 0 0 0 949.6 230.6 V214.1" fill="#fff" stroke="#000" stroke-width="1.6"/><ellipse cx="940.6" cy="214.1" rx="9" ry="4.8" fill="#fff" stroke="#000" stroke-width="2.8"/><ellipse cx="940.6" cy="214.9" rx="6" ry="2.5" fill="#fff" stroke="#000" stroke-width="1.8"/><path d="M931.6 216.6 A9 4.6 0 0 0 949.6 216.6" fill="none" stroke="#000" stroke-width="1.4"/><path d="M953 168 L936.7 177.8" stroke="#666" stroke-width="3.6" fill="none"/><path d="M953 168 L936.7 177.8" stroke="#fff" stroke-width="1.6" fill="none"/><path d="M929 182.5 L934.4 174.0 L939.0 181.7 Z" fill="#fff" stroke="#666" stroke-width="1.2"/><path d="M1012.8 201.8 L992.9 211.4" stroke="#666" stroke-width="3.6" fill="none"/><path d="M1012.8 201.8 L992.9 211.4" stroke="#fff" stroke-width="1.6" fill="none"/><path d="M984.8 215.3 L991.0 207.3 L994.9 215.4 Z" fill="#fff" stroke="#666" stroke-width="1.2"/><path d="M1010 163 Q989.0 165.5 958 180" stroke="#000" stroke-width="5" fill="none"/><path d="M1010 163 Q989.0 165.5 958 180" stroke="#fff" stroke-width="2.4" fill="none"/><path d="M958 180 L947 187" stroke="#000" stroke-width="3.4" fill="none"/><path d="M958 180 L947 187" stroke="#fff" stroke-width="1.2" fill="none"/><path d="M959 177 L956.5 183" stroke="#000" stroke-width="2"/><path d="M1017 166 Q1002.0 173.5 977 193" stroke="#000" stroke-width="5" fill="none"/><path d="M1017 166 Q1002.0 173.5 977 193" stroke="#fff" stroke-width="2.4" fill="none"/><path d="M977 193 L966.5 198" stroke="#000" stroke-width="3.4" fill="none"/><path d="M977 193 L966.5 198" stroke="#fff" stroke-width="1.2" fill="none"/><path d="M978 190 L975.5 196" stroke="#000" stroke-width="2"/><path d="M1023 170 Q1014.5 180.5 996 203" stroke="#000" stroke-width="5" fill="none"/><path d="M1023 170 Q1014.5 180.5 996 203" stroke="#fff" stroke-width="2.4" fill="none"/><path d="M996 203 L985 208.5" stroke="#000" stroke-width="3.4" fill="none"/><path d="M996 203 L985 208.5" stroke="#fff" stroke-width="1.2" fill="none"/><path d="M997 200 L994.5 206" stroke="#000" stroke-width="2"/><path d="M844 270 Q850 250 866 240.5" stroke="#000" stroke-width="5.2" fill="none"/><path d="M844 270 Q850 250 866 240.5" stroke="#fff" stroke-width="2.6" fill="none"/><path d="M866 240.5 L876.8 234.5" stroke="#000" stroke-width="3.6" fill="none"/><path d="M866 240.5 L876.8 234.5" stroke="#fff" stroke-width="1.3" fill="none"/><path d="M847 275 L884.5 251.5" stroke="#000" stroke-width="5.2" fill="none"/><path d="M847 275 L884.5 251.5" stroke="#fff" stroke-width="2.6" fill="none"/><path d="M884.5 251.5 L895.1 245.1" stroke="#000" stroke-width="3.6" fill="none"/><path d="M884.5 251.5 L895.1 245.1" stroke="#fff" stroke-width="1.3" fill="none"/><path d="M848 279.5 Q875 266 903.8 261" stroke="#000" stroke-width="5.2" fill="none"/><path d="M848 279.5 Q875 266 903.8 261" stroke="#fff" stroke-width="2.6" fill="none"/><path d="M903.8 261 L913.4 256.7" stroke="#000" stroke-width="3.6" fill="none"/><path d="M903.8 261 L913.4 256.7" stroke="#fff" stroke-width="1.3" fill="none"/><path d="M831.7 273.7 L841.1 268.6 Q847 272 848.8 280.5 L838.6 285.7 Q834 280 831.7 273.7 Z" fill="#fff" stroke="#000" stroke-width="1.8"/><path d="M841.1 242 L860 230.6" stroke="#000" stroke-width="3.2"/><path d="M841.1 242 L860 230.6" stroke="#fff" stroke-width="1.3"/><path d="M866 226.6 L856 227.6 L861 234.6 Z" fill="#fff" stroke="#000" stroke-width="1.6"/><path d="M897 280 L918 268.4" stroke="#000" stroke-width="3.2"/><path d="M897 280 L918 268.4" stroke="#fff" stroke-width="1.3"/><path d="M924 264.4 L914 265.4 L919 272.4 Z" fill="#fff" stroke="#000" stroke-width="1.6"/><text transform="translate(191.02 866.70) scale(0.9624 1)" font-size="31.08" fill="#000" >120MM</text><path d="M145.5 874.3H336.5M145.5 863V891M336.5 863V891" stroke="#000" fill="none" stroke-width="1.8"/><rect x="146" y="907" width="191" height="286" stroke="#000" fill="none" stroke-width="2"/><rect x="150" y="1038.5" width="183" height="24" stroke="#000" fill="none" stroke-width="2"/><rect x="176" y="1045" width="24" height="12" rx="6" stroke="#000" fill="none" stroke-width="2"/><ellipse cx="295" cy="1051" rx="3.8" ry="5.5" stroke="#000" fill="none" stroke-width="1.8"/><path d="M422.5 907V1193M406 907H424M406 1193H424" stroke="#000" fill="none" stroke-width="1.8"/><text transform="translate(410.00 1102.76) rotate(-90) scale(0.9677 1)" font-size="30.65" fill="#000">180MM</text><text transform="translate(197.93 1260.00) scale(0.9314 1)" font-size="31.98" fill="#000" >115MM</text><path d="M149.5 1267H333.5M149.5 1250V1271M333.5 1250V1271" stroke="#000" fill="none" stroke-width="1.8"/><path d="M660.0 813.6 L693.2 823.2 L710.3 846.8 L710.3 993.6 L693.2 1016.0 L660.0 1025.7 L622.5 991.4 L622.5 846.8Z" fill="#fff"/><clipPath id="c1"><path d="M660.0 813.6 L693.2 823.2 L710.3 846.8 L710.3 993.6 L693.2 1016.0 L660.0 1025.7 L622.5 991.4 L622.5 846.8Z"/></clipPath><g clip-path="url(#c1)"><path d="M620.50 812.6V1026.7M624.60 812.6V1026.7M628.70 812.6V1026.7M632.80 812.6V1026.7M636.90 812.6V1026.7M641.00 812.6V1026.7M645.10 812.6V1026.7M649.20 812.6V1026.7M653.30 812.6V1026.7M657.40 812.6V1026.7M661.50 812.6V1026.7M665.60 812.6V1026.7M669.70 812.6V1026.7M673.80 812.6V1026.7M677.90 812.6V1026.7M682.00 812.6V1026.7M686.10 812.6V1026.7M690.20 812.6V1026.7M694.30 812.6V1026.7M698.40 812.6V1026.7M702.50 812.6V1026.7M706.60 812.6V1026.7M710.70 812.6V1026.7" stroke="#7a7a7a" stroke-width="1.0" fill="none"/></g><path d="M660.0 813.6 L693.2 823.2 L710.3 846.8 L710.3 993.6 L693.2 1016.0 L660.0 1025.7 L622.5 991.4 L622.5 846.8Z" fill="none" stroke="#000" stroke-width="2.0" stroke-linejoin="round"/><circle cx="666.4" cy="852.6" r="2.6" fill="#fff" stroke="#000" stroke-width="1.5"/><text transform="translate(617.09 796.00) scale(0.9734 1)" font-size="25.78" fill="#000" >110MM</text><path d="M622.9 796.5H709.5M622.9 795V808M709.5 795V808" stroke="#000" fill="none" stroke-width="1.8"/><path d="M585.5 813.6V1025.7M585.5 813.6H597M585.5 1025.7H597" stroke="#000" fill="none" stroke-width="1.8"/><text transform="translate(584.00 963.28) rotate(-90) scale(1.0085 1)" font-size="25.21" fill="#000">270MM</text><text transform="translate(651.35 1046.00) scale(0.9939 1)" font-size="27.62" fill="#000" >A</text><path d="M798.2 830.7 L843.2 829.6 L861.4 866.0 L861.4 962.5 L840.0 995.7 L799.3 1003.2 L774.6 961.4 L774.6 870.3Z" fill="#fff"/><clipPath id="c2"><path d="M798.2 830.7 L843.2 829.6 L861.4 866.0 L861.4 962.5 L840.0 995.7 L799.3 1003.2 L774.6 961.4 L774.6 870.3Z"/></clipPath><g clip-path="url(#c2)"><path d="M771.00 828.6V1004.2M775.10 828.6V1004.2M779.20 828.6V1004.2M783.30 828.6V1004.2M787.40 828.6V1004.2M791.50 828.6V1004.2M795.60 828.6V1004.2M799.70 828.6V1004.2M803.80 828.6V1004.2M807.90 828.6V1004.2M812.00 828.6V1004.2M816.10 828.6V1004.2M820.20 828.6V1004.2M824.30 828.6V1004.2M828.40 828.6V1004.2M832.50 828.6V1004.2M836.60 828.6V1004.2M840.70 828.6V1004.2M844.80 828.6V1004.2M848.90 828.6V1004.2M853.00 828.6V1004.2M857.10 828.6V1004.2M861.20 828.6V1004.2M865.30 828.6V1004.2" stroke="#7a7a7a" stroke-width="1.0" fill="none"/></g><path d="M798.2 830.7 L843.2 829.6 L861.4 866.0 L861.4 962.5 L840.0 995.7 L799.3 1003.2 L774.6 961.4 L774.6 870.3Z" fill="none" stroke="#000" stroke-width="2.0" stroke-linejoin="round"/><circle cx="817.5" cy="869.3" r="2.6" fill="#fff" stroke="#000" stroke-width="1.5"/><text transform="translate(774.85 817.90) scale(1.1114 1)" font-size="23.06" fill="#000" >110MM</text><path d="M774.6 819H861.4M774.6 818V830M861.4 818V830" stroke="#000" fill="none" stroke-width="1.8"/><path d="M759 829.6V1002M759 829.6H770.3M759 1002H770.3" stroke="#000" fill="none" stroke-width="1.8"/><text transform="translate(758.60 946.56) rotate(-90) scale(1.0180 1)" font-size="24.63" fill="#000">220MM</text><text transform="translate(798.92 1046.00) scale(1.0954 1)" font-size="27.62" fill="#000" >B</text><path d="M669.3 1119.7 L700.4 1139.7 L700.4 1274.7 L671.4 1312.2 L641.0 1314.3 L613.6 1274.7 L613.6 1149.3Z" fill="#fff"/><clipPath id="c3"><path d="M669.3 1119.7 L700.4 1139.7 L700.4 1274.7 L671.4 1312.2 L641.0 1314.3 L613.6 1274.7 L613.6 1149.3Z"/></clipPath><g clip-path="url(#c3)"><path d="M613.40 1118.7V1315.3M617.50 1118.7V1315.3M621.60 1118.7V1315.3M625.70 1118.7V1315.3M629.80 1118.7V1315.3M633.90 1118.7V1315.3M638.00 1118.7V1315.3M642.10 1118.7V1315.3M646.20 1118.7V1315.3M650.30 1118.7V1315.3M654.40 1118.7V1315.3M658.50 1118.7V1315.3M662.60 1118.7V1315.3M666.70 1118.7V1315.3M670.80 1118.7V1315.3M674.90 1118.7V1315.3M679.00 1118.7V1315.3M683.10 1118.7V1315.3M687.20 1118.7V1315.3M691.30 1118.7V1315.3M695.40 1118.7V1315.3M699.50 1118.7V1315.3M703.60 1118.7V1315.3" stroke="#7a7a7a" stroke-width="1.0" fill="none"/></g><path d="M669.3 1119.7 L700.4 1139.7 L700.4 1274.7 L671.4 1312.2 L641.0 1314.3 L613.6 1274.7 L613.6 1149.3Z" fill="none" stroke="#000" stroke-width="2.0" stroke-linejoin="round"/><circle cx="657.1" cy="1158.5" r="2.6" fill="#fff" stroke="#000" stroke-width="1.5"/><text transform="translate(614.87 1105.40) scale(1.0978 1)" font-size="23.06" fill="#000" >110MM</text><path d="M613.6 1107H700.4M613.6 1106V1118M700.4 1106V1118" stroke="#000" fill="none" stroke-width="1.8"/><path d="M596.9 1121V1314.3M596.9 1121H607.6M596.9 1314.3H607.6" stroke="#000" fill="none" stroke-width="1.8"/><text transform="translate(596.40 1258.76) rotate(-90) scale(0.9621 1)" font-size="26.07" fill="#000">250MM</text><text transform="translate(649.53 1341.10) scale(1.1086 1)" font-size="26.07" fill="#000" >C</text><path d="M778.6 1134.3 L816.1 1126.8 L846.1 1168.6 L846.1 1241.5 L815.0 1281.7 L778.6 1271.5 L759.3 1241.5 L759.3 1170.3Z" fill="#fff"/><clipPath id="c4"><path d="M778.6 1134.3 L816.1 1126.8 L846.1 1168.6 L846.1 1241.5 L815.0 1281.7 L778.6 1271.5 L759.3 1241.5 L759.3 1170.3Z"/></clipPath><g clip-path="url(#c4)"><path d="M755.50 1125.8V1282.7M759.60 1125.8V1282.7M763.70 1125.8V1282.7M767.80 1125.8V1282.7M771.90 1125.8V1282.7M776.00 1125.8V1282.7M780.10 1125.8V1282.7M784.20 1125.8V1282.7M788.30 1125.8V1282.7M792.40 1125.8V1282.7M796.50 1125.8V1282.7M800.60 1125.8V1282.7M804.70 1125.8V1282.7M808.80 1125.8V1282.7M812.90 1125.8V1282.7M817.00 1125.8V1282.7M821.10 1125.8V1282.7M825.20 1125.8V1282.7M829.30 1125.8V1282.7M833.40 1125.8V1282.7M837.50 1125.8V1282.7M841.60 1125.8V1282.7M845.70 1125.8V1282.7M849.80 1125.8V1282.7" stroke="#7a7a7a" stroke-width="1.0" fill="none"/></g><path d="M778.6 1134.3 L816.1 1126.8 L846.1 1168.6 L846.1 1241.5 L815.0 1281.7 L778.6 1271.5 L759.3 1241.5 L759.3 1170.3Z" fill="none" stroke="#000" stroke-width="2.0" stroke-linejoin="round"/><circle cx="802.6" cy="1165.8" r="2.6" fill="#fff" stroke="#000" stroke-width="1.5"/><path d="M816 1127V1281" stroke="#000" stroke-width="1.3"/><text transform="translate(760.57 1112.90) scale(1.0978 1)" font-size="23.06" fill="#000" >110MM</text><path d="M759.3 1114H846.1M759.3 1113V1123.6M846.1 1113V1123.6" stroke="#000" fill="none" stroke-width="1.8"/><path d="M747.5 1127.9V1280.5M747.5 1127.9H758.2M747.5 1280.5H758.2" stroke="#000" fill="none" stroke-width="1.8"/><text transform="translate(746.50 1240.56) rotate(-90) scale(0.9580 1)" font-size="26.21" fill="#000">200MM</text><text transform="translate(800.82 1341.10) scale(1.0978 1)" font-size="26.45" fill="#000" >D</text><text transform="translate(1027.93 811.00) scale(0.9586 1)" font-size="34.80" fill="#000" >A:270*110MM</text><text transform="translate(1265.46 811.00) scale(0.9353 1)" font-size="34.80" fill="#000" >2PCS</text><text transform="translate(1025.28 851.00) scale(0.9543 1)" font-size="34.80" fill="#000" >B:220*110MM</text><text transform="translate(1263.55 851.00) scale(0.9231 1)" font-size="34.80" fill="#000" >1PCS</text><text transform="translate(1026.31 891.00) scale(0.9549 1)" font-size="34.80" fill="#000" >C:250*110MM</text><text transform="translate(1266.55 891.00) scale(0.9231 1)" font-size="34.80" fill="#000" >1PCS</text><text transform="translate(1025.27 931.00) scale(0.9550 1)" font-size="34.80" fill="#000" >D:200*110MM</text><text transform="translate(1265.55 931.00) scale(0.9231 1)" font-size="34.80" fill="#000" >1PCS</text><rect x="1226" y="1000.7" width="234" height="49.3" fill="#fff" stroke="#000" stroke-width="2"/><path d="M1136.77 1044.62 A205.5 205.5 0 0 0 1231.78 1223.32 L1226.68 1231.33 A215 215 0 0 1 1127.27 1044.37 Z" fill="#fff" stroke="#000" stroke-width="1.8" stroke-linejoin="miter"/><path d="M1127.87 1044.39 A214.4 214.4 0 0 0 1227.00 1230.82" fill="none" stroke="#000" stroke-width="3"/><path d="M1128.70 1050.79L1132.90 1049.01L1128.72 1047.19ZM1128.93 1059.95L1133.05 1057.99L1128.79 1056.35ZM1129.55 1069.09L1133.59 1066.95L1129.26 1065.50ZM1130.57 1078.19L1134.51 1075.88L1130.12 1074.62ZM1131.97 1087.24L1135.81 1084.77L1131.38 1083.69ZM1133.76 1096.22L1137.49 1093.59L1133.01 1092.70ZM1135.94 1105.12L1139.55 1102.33L1135.04 1101.64ZM1138.49 1113.92L1141.98 1110.98L1137.44 1110.47ZM1141.42 1122.60L1144.78 1119.51L1140.23 1119.20ZM1144.72 1131.14L1147.94 1127.91L1143.38 1127.80ZM1148.38 1139.54L1151.46 1136.17L1146.90 1136.26ZM1152.40 1147.77L1155.33 1144.27L1150.78 1144.55ZM1156.77 1155.82L1159.55 1152.20L1155.01 1152.68ZM1161.48 1163.68L1164.10 1159.94L1159.59 1160.61ZM1166.52 1171.32L1168.98 1167.48L1164.50 1168.34ZM1171.89 1178.75L1174.18 1174.80L1169.74 1175.86ZM1177.57 1185.93L1179.69 1181.89L1175.30 1183.14ZM1183.55 1192.87L1185.49 1188.74L1181.16 1190.17ZM1189.82 1199.54L1191.59 1195.34L1187.32 1196.95ZM1196.38 1205.94L1197.96 1201.66L1193.77 1203.46ZM1203.20 1212.05L1204.60 1207.71L1200.49 1209.69ZM1210.28 1217.87L1211.49 1213.47L1207.47 1215.62ZM1217.60 1223.37L1218.62 1218.92L1214.70 1221.24ZM1225.15 1228.56L1225.98 1224.07L1222.16 1226.56Z" fill="#000" stroke="#000" stroke-width="0.8" stroke-linejoin="round"/><path d="M1547.63 1044.62 A205.5 205.5 0 0 1 1452.62 1223.32 L1457.72 1231.33 A215 215 0 0 0 1557.13 1044.37 Z" fill="#fff" stroke="#000" stroke-width="1.8" stroke-linejoin="miter"/><path d="M1556.53 1044.39 A214.4 214.4 0 0 1 1457.40 1230.82" fill="none" stroke="#000" stroke-width="3"/><path d="M1555.68 1047.19L1551.50 1049.01L1555.70 1050.79ZM1555.61 1056.35L1551.35 1057.99L1555.47 1059.95ZM1555.14 1065.50L1550.81 1066.95L1554.85 1069.09ZM1554.28 1074.62L1549.89 1075.88L1553.83 1078.19ZM1553.02 1083.69L1548.59 1084.77L1552.43 1087.24ZM1551.39 1092.70L1546.91 1093.59L1550.64 1096.22ZM1549.36 1101.64L1544.85 1102.33L1548.46 1105.12ZM1546.96 1110.47L1542.42 1110.98L1545.91 1113.92ZM1544.17 1119.20L1539.62 1119.51L1542.98 1122.60ZM1541.02 1127.80L1536.46 1127.91L1539.68 1131.14ZM1537.50 1136.26L1532.94 1136.17L1536.02 1139.54ZM1533.62 1144.55L1529.07 1144.27L1532.00 1147.77ZM1529.39 1152.68L1524.85 1152.20L1527.63 1155.82ZM1524.81 1160.61L1520.30 1159.94L1522.92 1163.68ZM1519.90 1168.34L1515.42 1167.48L1517.88 1171.32ZM1514.66 1175.86L1510.22 1174.80L1512.51 1178.75ZM1509.10 1183.14L1504.71 1181.89L1506.83 1185.93ZM1503.24 1190.17L1498.91 1188.74L1500.85 1192.87ZM1497.08 1196.95L1492.81 1195.34L1494.58 1199.54ZM1490.63 1203.46L1486.44 1201.66L1488.02 1205.94ZM1483.91 1209.69L1479.80 1207.71L1481.20 1212.05ZM1476.93 1215.62L1472.91 1213.47L1474.12 1217.87ZM1469.70 1221.24L1465.78 1218.92L1466.80 1223.37ZM1462.24 1226.56L1458.42 1224.07L1459.25 1228.56Z" fill="#000" stroke="#000" stroke-width="0.8" stroke-linejoin="round"/><path d="M1239.45 1227.97 A205.5 205.5 0 0 0 1444.95 1227.97 L1449.20 1235.33 A214 214 0 0 1 1235.20 1235.33 Z" fill="#fff" stroke="#000" stroke-width="1.8" stroke-linejoin="miter"/><path d="M1235.50 1234.81 A213.4 213.4 0 0 0 1448.90 1234.81" fill="none" stroke="#000" stroke-width="3"/><path d="M1241.57 1237.16L1242.01 1232.62L1238.42 1235.43ZM1249.83 1241.37L1250.07 1236.82L1246.60 1239.78ZM1258.27 1245.22L1258.31 1240.66L1254.97 1243.77ZM1266.86 1248.70L1266.70 1244.14L1263.51 1247.39ZM1275.60 1251.79L1275.24 1247.25L1272.19 1250.64ZM1284.47 1254.51L1283.91 1249.98L1281.01 1253.50ZM1293.44 1256.83L1292.69 1252.33L1289.95 1255.97ZM1302.51 1258.76L1301.56 1254.30L1298.98 1258.06ZM1311.65 1260.29L1310.51 1255.88L1308.10 1259.75ZM1320.86 1261.43L1319.52 1257.06L1317.28 1261.03ZM1330.10 1262.16L1328.58 1257.85L1326.51 1261.92ZM1339.36 1262.48L1337.66 1258.25L1335.76 1262.40ZM1348.64 1262.40L1346.74 1258.25L1345.04 1262.48ZM1357.89 1261.92L1355.82 1257.85L1354.30 1262.16ZM1367.12 1261.03L1364.88 1257.06L1363.54 1261.43ZM1376.30 1259.75L1373.89 1255.88L1372.75 1260.29ZM1385.42 1258.06L1382.84 1254.30L1381.89 1258.76ZM1394.45 1255.97L1391.71 1252.33L1390.96 1256.83ZM1403.39 1253.50L1400.49 1249.98L1399.93 1254.51ZM1412.21 1250.64L1409.16 1247.25L1408.80 1251.79ZM1420.89 1247.39L1417.70 1244.14L1417.54 1248.70ZM1429.43 1243.77L1426.09 1240.66L1426.13 1245.22ZM1437.80 1239.78L1434.33 1236.82L1434.57 1241.37ZM1445.98 1235.43L1442.39 1232.62L1442.83 1237.16Z" fill="#000" stroke="#000" stroke-width="0.8" stroke-linejoin="round"/><path d="M1546.2 1050 H1138.2 " fill="none" stroke="#000" stroke-width="2.2"/><path d="M1138.2 1050 A204 204.6 0 0 0 1546.2 1050" fill="none" stroke="#000" stroke-width="3.2"/><path d="M1140.8 1050 A201.4 202 0 0 0 1543.6 1050" fill="none" stroke="#000" stroke-width="1.2"/><path d="M1143.2 1055.7 H1541.2 M1143.2 1055.7 A199 192 0 0 0 1541.2 1055.7" fill="none" stroke="#000" stroke-width="2"/><path d="M1159.99 1092.07 A187 187 0 0 0 1301.73 1232.57 L1299.67 1241.84 A196.5 196.5 0 0 1 1150.74 1094.20 Z" fill="#fff" stroke="#000" stroke-width="1.8" stroke-linejoin="miter"/><path d="M1151.32 1094.07 A195.9 195.9 0 0 0 1299.80 1241.26" fill="none" stroke="#000" stroke-width="3"/><path d="M1153.73 1100.05L1157.35 1097.27L1152.84 1096.56ZM1156.29 1108.83L1159.77 1105.88L1155.23 1105.39ZM1159.25 1117.49L1162.59 1114.38L1158.04 1114.10ZM1162.62 1125.99L1165.80 1122.73L1161.24 1122.66ZM1166.38 1134.33L1169.41 1130.92L1164.85 1131.07ZM1170.52 1142.48L1173.39 1138.93L1168.85 1139.29ZM1175.05 1150.43L1177.75 1146.75L1173.22 1147.32ZM1179.94 1158.15L1182.47 1154.35L1177.97 1155.14ZM1185.19 1165.64L1187.53 1161.73L1183.08 1162.72ZM1190.79 1172.88L1192.94 1168.86L1188.54 1170.06ZM1196.71 1179.84L1198.68 1175.72L1194.34 1177.13ZM1202.96 1186.52L1204.73 1182.32L1200.47 1183.93ZM1209.52 1192.90L1211.09 1188.62L1206.90 1190.42ZM1216.36 1198.96L1217.73 1194.61L1213.63 1196.61ZM1223.49 1204.70L1224.65 1200.29L1220.65 1202.48ZM1230.87 1210.10L1231.83 1205.63L1227.93 1208.01ZM1238.50 1215.14L1239.24 1210.64L1235.47 1213.20ZM1246.36 1219.82L1246.89 1215.29L1243.24 1218.02ZM1254.42 1224.13L1254.75 1219.58L1251.22 1222.48ZM1262.68 1228.05L1262.79 1223.49L1259.41 1226.55ZM1271.12 1231.58L1271.01 1227.02L1267.78 1230.24ZM1279.71 1234.72L1279.39 1230.17L1276.31 1233.53ZM1288.44 1237.44L1287.91 1232.91L1284.99 1236.42ZM1297.29 1239.76L1296.55 1235.26L1293.80 1238.90Z" fill="#000" stroke="#000" stroke-width="0.8" stroke-linejoin="round"/><path d="M1524.41 1092.07 A187 187 0 0 1 1382.67 1232.57 L1384.73 1241.84 A196.5 196.5 0 0 0 1533.66 1094.20 Z" fill="#fff" stroke="#000" stroke-width="1.8" stroke-linejoin="miter"/><path d="M1533.08 1094.07 A195.9 195.9 0 0 1 1384.60 1241.26" fill="none" stroke="#000" stroke-width="3"/><path d="M1531.56 1096.56L1527.05 1097.27L1530.67 1100.05ZM1529.17 1105.39L1524.63 1105.88L1528.11 1108.83ZM1526.36 1114.10L1521.81 1114.38L1525.15 1117.49ZM1523.16 1122.66L1518.60 1122.73L1521.78 1125.99ZM1519.55 1131.07L1514.99 1130.92L1518.02 1134.33ZM1515.55 1139.29L1511.01 1138.93L1513.88 1142.48ZM1511.18 1147.32L1506.65 1146.75L1509.35 1150.43ZM1506.43 1155.14L1501.93 1154.35L1504.46 1158.15ZM1501.32 1162.72L1496.87 1161.73L1499.21 1165.64ZM1495.86 1170.06L1491.46 1168.86L1493.61 1172.88ZM1490.06 1177.13L1485.72 1175.72L1487.69 1179.84ZM1483.93 1183.93L1479.67 1182.32L1481.44 1186.52ZM1477.50 1190.42L1473.31 1188.62L1474.88 1192.90ZM1470.77 1196.61L1466.67 1194.61L1468.04 1198.96ZM1463.75 1202.48L1459.75 1200.29L1460.91 1204.70ZM1456.47 1208.01L1452.57 1205.63L1453.53 1210.10ZM1448.93 1213.20L1445.16 1210.64L1445.90 1215.14ZM1441.16 1218.02L1437.51 1215.29L1438.04 1219.82ZM1433.18 1222.48L1429.65 1219.58L1429.98 1224.13ZM1424.99 1226.55L1421.61 1223.49L1421.72 1228.05ZM1416.62 1230.24L1413.39 1227.02L1413.28 1231.58ZM1408.09 1233.53L1405.01 1230.17L1404.69 1234.72ZM1399.41 1236.42L1396.49 1232.91L1395.96 1237.44ZM1390.60 1238.90L1387.85 1235.26L1387.11 1239.76Z" fill="#000" stroke="#000" stroke-width="0.8" stroke-linejoin="round"/><path d="M1342.5 1249.7 V1268" fill="none" stroke="#000" stroke-width="1.6"/><path d="M1130.6 1132.9 L1140.3 1128.3 L1160.9 1172.9 L1153.4 1178.0Z" fill="#fff" stroke="#000" stroke-width="2.2" stroke-linejoin="miter"/><path d="M1553.8 1132.9 L1544.1 1128.3 L1523.5 1172.9 L1531.0 1178.0Z" fill="#fff" stroke="#000" stroke-width="2.2" stroke-linejoin="miter"/><path d="M1206.6 1174.6 L1210.6 1170.0 L1224.9 1183.7 L1221.4 1188.9Z" fill="#fff" stroke="#000" stroke-width="2.2" stroke-linejoin="miter"/><path d="M1477.8 1174.6 L1473.8 1170.0 L1459.5 1183.7 L1463.0 1188.9Z" fill="#fff" stroke="#000" stroke-width="2.2" stroke-linejoin="miter"/><rect x="1318" y="1266.2" width="50.1" height="10.4" fill="#fff" stroke="#000" stroke-width="2.2"/><circle cx="1284.2" cy="1105.6" r="28.9" fill="none" stroke="#000" stroke-width="2"/><path d="M1272 1056 V1117.7 H1296.3 V1056" fill="none" stroke="#000" stroke-width="2"/><circle cx="1401.2" cy="1105.6" r="28.9" fill="none" stroke="#000" stroke-width="2"/><path d="M1389 1056 V1117.7 H1413.3 V1056" fill="none" stroke="#000" stroke-width="2"/><text transform="translate(1089.71 1157.60) scale(1.0855 1)" font-size="52.62" fill="#000" >B</text><text transform="translate(1222.90 1177.80) scale(0.9232 1)" font-size="56.69" fill="#000" >A</text><text transform="translate(1432.30 1173.40) scale(0.9601 1)" font-size="54.51" fill="#000" >A</text><text transform="translate(1540.50 1180.70) scale(1.0229 1)" font-size="54.80" fill="#000" >D</text><text transform="translate(1318.42 1328.00) scale(1.0175 1)" font-size="53.85" fill="#000" >C</text>
</svg></body></html>
